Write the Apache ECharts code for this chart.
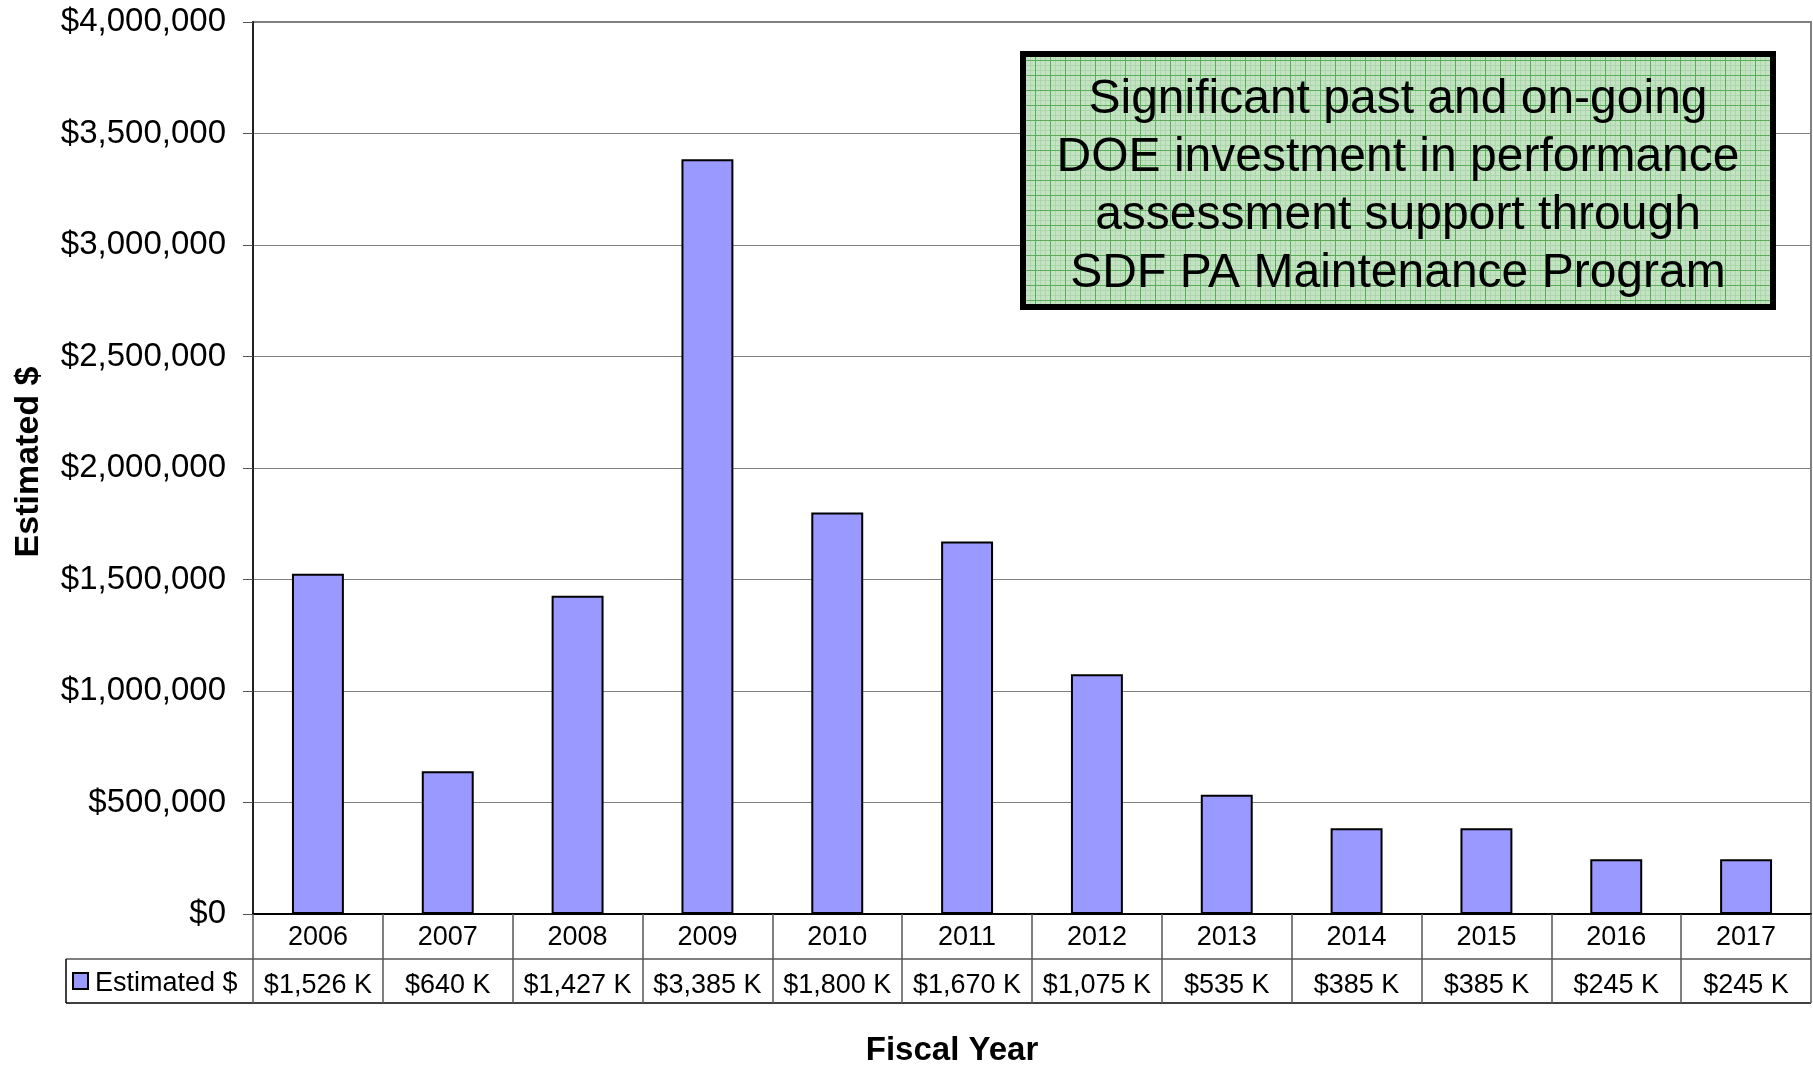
<!DOCTYPE html>
<html><head><meta charset="utf-8">
<script src="https://cdn.jsdelivr.net/npm/echarts@6/dist/echarts.min.js"></script>
<style>html,body{margin:0;padding:0;background:#fff}#c{width:1813px;height:1068px}</style>
</head><body><div id="c"></div>
<script>
var years = ['2006','2007','2008','2009','2010','2011','2012','2013','2014','2015','2016','2017'];
var estimatedK = [1526, 640, 1427, 3385, 1800, 1670, 1075, 535, 385, 385, 245, 245];
var yTicks = [0, 500000, 1000000, 1500000, 2000000, 2500000, 3000000, 3500000, 4000000];
var seriesName = 'Estimated $';
var calloutLines = ['Significant past and on-going','DOE investment in performance','assessment support through','SDF PA Maintenance Program'];

var FONT = '"Liberation Sans", Arial, sans-serif';
var W = 1813, H = 1068;
var G = {left: 253, right: 2, top: 22, bottom: 154};
var axisY = H - G.bottom;          // x axis line y
var row1 = 45, row2 = 44;          // table row heights
var tableLeft = 66;

var values = estimatedK.map(function(v){ return v * 1000; });
var valueLabels = estimatedK.map(function(v){ return '$' + v.toLocaleString('en-US') + ' K'; });

// pattern for callout box
var pc = document.createElement('canvas');
pc.width = 15; pc.height = 15;
var px = pc.getContext('2d');
px.fillStyle = '#c3e3c3'; px.fillRect(0,0,15,15);
px.fillStyle = '#aed6ae';
px.fillRect(5,0,1,15); px.fillRect(10,0,1,15); px.fillRect(0,5,15,1); px.fillRect(0,10,15,1);
px.fillStyle = '#5aae5a';
px.fillRect(0,0,1,15); px.fillRect(0,0,15,1);

var chart = echarts.init(document.getElementById('c'), null, {renderer:'canvas'});
var box = {x: 1020, y: 51, w: 756, h: 259};
var gfx = [];
gfx.push({type:'rect', shape:{x:box.x+3, y:box.y+3, width:box.w-6, height:box.h-6},
  style:{fill:{image:pc, repeat:'repeat'}, stroke:'#000', lineWidth:6}, z:10});
calloutLines.forEach(function(t,i){
  gfx.push({type:'text', x: box.x + box.w/2, y: box.y + 49 + i*58, z:11,
    style:{text:t, font:'48px ' + FONT, fill:'#000', align:'center', verticalAlign:'middle'}});
});
// table lines
var r = W - G.right;
gfx.push({type:'line', shape:{x1:tableLeft, y1:axisY+row1, x2:r, y2:axisY+row1}, style:{stroke:'#555', lineWidth:1.5}});
gfx.push({type:'line', shape:{x1:tableLeft, y1:axisY+row1+row2, x2:r, y2:axisY+row1+row2}, style:{stroke:'#000', lineWidth:1.5}});
gfx.push({type:'line', shape:{x1:tableLeft, y1:axisY+row1, x2:tableLeft, y2:axisY+row1+row2}, style:{stroke:'#000', lineWidth:1.5}});
gfx.push({type:'rect', shape:{x:tableLeft+7, y:axisY+row1+14, width:15, height:16}, style:{fill:'#9999ff', stroke:'#000', lineWidth:2}});
gfx.push({type:'text', x: tableLeft+29, y: axisY+row1+row2/2+3,
  style:{text:seriesName, font:'27px ' + FONT, fill:'#000', align:'left', verticalAlign:'middle'}});
gfx.push({type:'text', x: 952, y: 1051,
  style:{text:'Fiscal Year', font:'bold 33px ' + FONT, fill:'#000', align:'center', verticalAlign:'middle'}});
gfx.push({type:'text', x: 29, y: 462, rotation: Math.PI/2, originX: 0, originY: 0,
  style:{text:seriesName, font:'bold 34px ' + FONT, fill:'#000', align:'center', verticalAlign:'middle'}});

chart.setOption({
  animation:false,
  backgroundColor:'#fff',
  grid:{left:G.left, right:G.right, top:G.top, bottom:G.bottom, show:true, borderColor:'#808080', borderWidth:2, backgroundColor:'transparent'},
  xAxis:[{
    type:'category', data:years, position:'bottom',
    axisLine:{show:true, lineStyle:{color:'#000', width:2}},
    axisTick:{show:true, length:row1+row2, lineStyle:{color:'#555', width:1.5}},
    axisLabel:{fontSize:27, fontFamily:FONT, color:'#000', margin:10, interval:0}
  },{
    type:'category', data:valueLabels, position:'bottom', offset:row1,
    axisLine:{show:false}, axisTick:{show:false},
    axisLabel:{fontSize:27, fontFamily:FONT, color:'#000', margin:13, interval:0}
  }],
  yAxis:{
    type:'value', min:yTicks[0], max:yTicks[yTicks.length-1], interval:yTicks[1]-yTicks[0],
    axisLine:{show:true, lineStyle:{color:'#222', width:2}},
    axisTick:{show:true, length:10, lineStyle:{color:'#555'}},
    splitLine:{show:true, lineStyle:{color:'#808080', width:1.2}},
    axisLabel:{fontSize:33, fontFamily:FONT, color:'#000', margin:27,
      formatter:function(v){ return '$' + v.toLocaleString('en-US'); }}
  },
  series:[{
    type:'bar', name:seriesName, data:values, barWidth:'40%', xAxisIndex:0,
    itemStyle:{color:'#9999ff', borderColor:'#000', borderWidth:2}
  }],
  graphic:gfx
});
</script></body></html>
